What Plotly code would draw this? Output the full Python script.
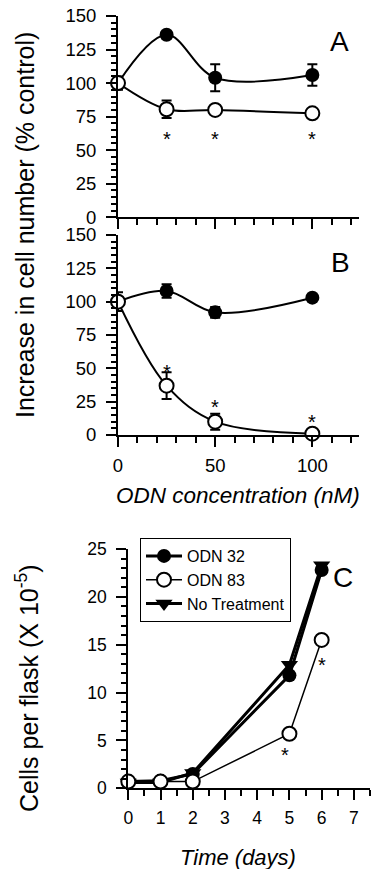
import plotly.graph_objects as go

# ---------------- data ----------------
conc = [0, 25, 50, 100]
a_odn32 = [100, 136, 104, 106]
a_odn32_err = [5, 0, 10, 8]
a_odn83 = [100, 80.5, 80, 77.5]
a_odn83_err = [0, 6.5, 0, 0]
a_star_x = [25, 50, 100]
a_star_y = [58, 58, 58]

b_odn32 = [100, 108, 92, 103]
b_odn32_err = [7, 5, 4, 0]
b_odn83 = [100, 37, 10, 1]
b_odn83_err = [0, 10, 6, 0]
b_star_x = [25, 50, 100]
b_star_y = [47, 21, 9.5]

days = [0, 1, 2, 5, 6]
c_odn32 = [0.7, 0.8, 1.5, 11.8, 22.8]
c_odn83 = [0.7, 0.7, 0.7, 5.7, 15.5]
c_none = [0.6, 0.6, 1.6, 12.9, 23.3]
c_star_x = [4.85, 6.0]
c_star_y = [3.5, 12.9]

W, H = 381, 877
OFF = 8  # default page body margin
FW, FH = W - 2 * OFF, H - 2 * OFF
FONT = "Liberation Sans, Arial, sans-serif"

def px(p):
    return (p - OFF) / FW

def py(p):
    return 1 - (p - OFF) / FH

def xd(a, b):
    return [px(a), px(b)]

def yd(top, bottom):
    return [py(bottom), py(top)]

fig = go.Figure()

def err(vals):
    return dict(type="data", array=vals, visible=True, color="black", thickness=2, width=5)

# Panel A
fig.add_trace(go.Scatter(x=conc, y=a_odn32, mode="lines+markers", xaxis="x", yaxis="y",
                         line=dict(color="black", width=2, shape="spline", smoothing=1),
                         marker=dict(symbol="circle", size=14, color="black"),
                         error_y=err(a_odn32_err), showlegend=False, cliponaxis=False))
fig.add_trace(go.Scatter(x=conc, y=a_odn83, mode="lines+markers", xaxis="x", yaxis="y",
                         line=dict(color="black", width=2, shape="spline", smoothing=1),
                         marker=dict(symbol="circle", size=14, color="white", line=dict(color="black", width=2)),
                         error_y=err(a_odn83_err), showlegend=False, cliponaxis=False))
# Panel B
fig.add_trace(go.Scatter(x=conc, y=b_odn32, mode="lines+markers", xaxis="x2", yaxis="y2",
                         line=dict(color="black", width=2, shape="spline", smoothing=1),
                         marker=dict(symbol="circle", size=14, color="black"),
                         error_y=err(b_odn32_err), showlegend=False, cliponaxis=False))
fig.add_trace(go.Scatter(x=conc, y=b_odn83, mode="lines+markers", xaxis="x2", yaxis="y2",
                         line=dict(color="black", width=2, shape="spline", smoothing=1),
                         marker=dict(symbol="circle", size=14, color="white", line=dict(color="black", width=2)),
                         error_y=err(b_odn83_err), showlegend=False, cliponaxis=False))
# Panel C
fig.add_trace(go.Scatter(x=days, y=c_none, mode="lines+markers", xaxis="x3", yaxis="y3",
                         name="No Treatment", legendrank=3,
                         line=dict(color="black", width=3),
                         marker=dict(symbol="triangle-down", size=15, color="black"),
                         cliponaxis=False))
fig.add_trace(go.Scatter(x=days, y=c_odn32, mode="lines+markers", xaxis="x3", yaxis="y3",
                         name="ODN 32", legendrank=1,
                         line=dict(color="black", width=3),
                         marker=dict(symbol="circle", size=14, color="black"),
                         cliponaxis=False))
fig.add_trace(go.Scatter(x=days, y=c_odn83, mode="lines+markers", xaxis="x3", yaxis="y3",
                         name="ODN 83", legendrank=2,
                         line=dict(color="black", width=1.5),
                         marker=dict(symbol="circle", size=14, color="white", line=dict(color="black", width=2)),
                         cliponaxis=False))

def yaxis(dom, rng, dtick, mdtick, anchor, fs):
    return dict(domain=dom, range=rng, dtick=dtick, tick0=0, showline=True, linewidth=2, linecolor="black",
                ticks="outside", ticklen=10, tickwidth=2, tickcolor="black", showgrid=False, zeroline=False,
                tickfont=dict(family=FONT, size=fs, color="black"), ticklabelstandoff=6, anchor=anchor,
                automargin=False, ticklabeloverflow="allow",
                minor=dict(dtick=mdtick, tick0=0, ticks="outside", ticklen=5, tickwidth=1.5, tickcolor="black", showgrid=False))

def xaxis(dom, rng, dtick, mdtick, anchor, fs, labels=True):
    return dict(domain=dom, range=rng, dtick=dtick, tick0=0, showline=True, linewidth=2, linecolor="black",
                ticks="outside", ticklen=10, tickwidth=2, tickcolor="black", showgrid=False, zeroline=False,
                tickfont=dict(family=FONT, size=fs, color="black"), showticklabels=labels,
                ticklabelstandoff=3, anchor=anchor, automargin=False, ticklabeloverflow="allow",
                minor=dict(dtick=mdtick, tick0=0, ticks="outside", ticklen=6, tickwidth=1.5, tickcolor="black", showgrid=False))

xA = xd(118, 359)
xC = xd(128.3, 370)

fig.update_layout(
    template="none",
    width=FW, height=FH, margin=dict(l=0, r=0, t=0, b=0, pad=0, autoexpand=False),
    paper_bgcolor="white", plot_bgcolor="rgba(0,0,0,0)",
    font=dict(family=FONT, color="black"),
    xaxis=xaxis(xA, [0, 124], 50, 10, "y", 18.5, labels=False),
    yaxis=yaxis(yd(16, 217.3), [0, 150], 25, 5, "x", 18.5),
    xaxis2=xaxis(xA, [0, 124], 50, 10, "y2", 18.5),
    yaxis2=yaxis(yd(235, 435), [0, 150], 25, 5, "x2", 18.5),
    xaxis3=xaxis(xC, [0, 7.5], 1, 0.5, "y3", 17.5),
    yaxis3=yaxis(yd(549, 788.3), [0, 25], 5, 1, "x3", 17.5),
    legend=dict(x=px(140), y=py(538), xanchor="left", yanchor="top",
                bordercolor="black", borderwidth=1, bgcolor="white",
                font=dict(family=FONT, size=16, color="black"), tracegroupgap=0,
                itemwidth=36),
)

ann = []
for xs, ys, xr, yr in [(a_star_x, a_star_y, "x", "y"), (b_star_x, b_star_y, "x2", "y2"), (c_star_x, c_star_y, "x3", "y3")]:
    for x, y in zip(xs, ys):
        ann.append(dict(x=x, y=y, xref=xr, yref=yr, text="*", showarrow=False,
                        xanchor="center", yanchor="middle",
                        font=dict(family=FONT, size=20, color="black")))
for t, x, y in [("A", 339, 41), ("B", 340, 262), ("C", 343, 577)]:
    ann.append(dict(x=px(x), y=py(y), xref="paper", yref="paper", text=t, showarrow=False,
                    xanchor="center", yanchor="middle",
                    font=dict(family=FONT, size=28, color="black")))
ann.append(dict(x=px(25), y=py(225), xref="paper", yref="paper", textangle=-90,
                xanchor="center", yanchor="middle",
                text="Increase in cell number (% control)", showarrow=False,
                font=dict(family=FONT, size=25, color="black")))
ann.append(dict(x=px(238), y=py(495), xref="paper", yref="paper",
                xanchor="center", yanchor="middle",
                text="<i>ODN concentration (nM)</i>", showarrow=False,
                font=dict(family=FONT, size=22.5, color="black")))
ann.append(dict(x=px(27), y=py(688), xref="paper", yref="paper", textangle=-90,
                xanchor="center", yanchor="middle",
                text="Cells per flask (X 10<sup>-5</sup>)", showarrow=False,
                font=dict(family=FONT, size=25, color="black")))
ann.append(dict(x=px(238), y=py(857), xref="paper", yref="paper",
                xanchor="center", yanchor="middle",
                text="<i>Time (days)</i>", showarrow=False,
                font=dict(family=FONT, size=22, color="black")))
fig.update_layout(annotations=ann)

fig.write_html("out.html")
